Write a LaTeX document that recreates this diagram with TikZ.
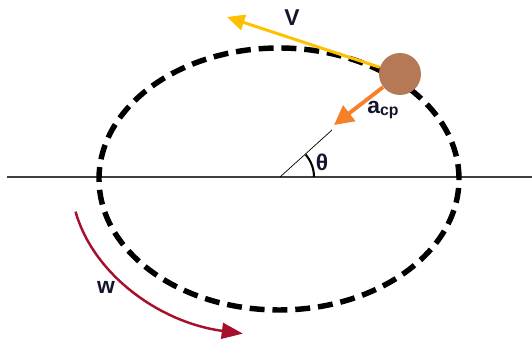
\documentclass[tikz,border=0pt]{standalone}
\usepackage{fontspec}
\setmainfont{Liberation Sans}
\usetikzlibrary{arrows.meta}
\definecolor{ballbrown}{RGB}{181,121,86}
\definecolor{vgold}{RGB}{255,192,0}
\definecolor{aorange}{RGB}{245,128,40}
\definecolor{wred}{RGB}{165,16,42}
\definecolor{labelink}{RGB}{20,20,45}

\begin{document}
\begin{tikzpicture}[x=0.02cm,y=0.02cm,
    lbl/.style={font=\fontsize{13}{15}\selectfont\bfseries,text=labelink,inner sep=0pt}]
  \useasboundingbox (0,0) rectangle (532,341);
  \coordinate (O) at (280,164);
  \draw[line width=0.6pt,black!75] (7,164) -- (532,164);
  \draw[line width=3.1pt,dash pattern=on 8.5pt off 4.5pt] (279,162) ellipse (180 and 131);
  % angle
  \coordinate (rtip) at (332,211);
  \draw[line width=0.4pt] (O) -- (rtip);
  \draw[line width=1.2pt] (O) ++(0:34) arc (0:41:34);
  \node[lbl] (theta) at (322,179) {θ};
  % ball and vectors
  \node[circle,fill=ballbrown,minimum size=0.84cm,inner sep=0pt] (ball) at (400,267) {};
  \coordinate (vtip) at (227,324);
  \coordinate (atip) at (334,216);
  \draw[vgold,line width=1.7pt,-{Triangle[length=10pt,width=9pt]}] (ball) -- (vtip);
  \draw[aorange,line width=2.2pt,-{Triangle[length=11pt,width=11pt]}] (ball) -- (atip);
  \node[lbl] (v) at (292,323) {V};
  \node[lbl] (acp) at (383,231) {a\raisebox{-1pt}{\fontsize{9}{10}\selectfont cp}};
  % angular velocity
  \draw[wred,line width=1.4pt,-{Triangle[length=12pt,width=9pt]}]
    (279,162) ++(192:208 and 157) arc[start angle=192,end angle=260,x radius=208,y radius=157];
  \node[lbl] (w) at (106,54) {w};
\end{tikzpicture}
\end{document}
